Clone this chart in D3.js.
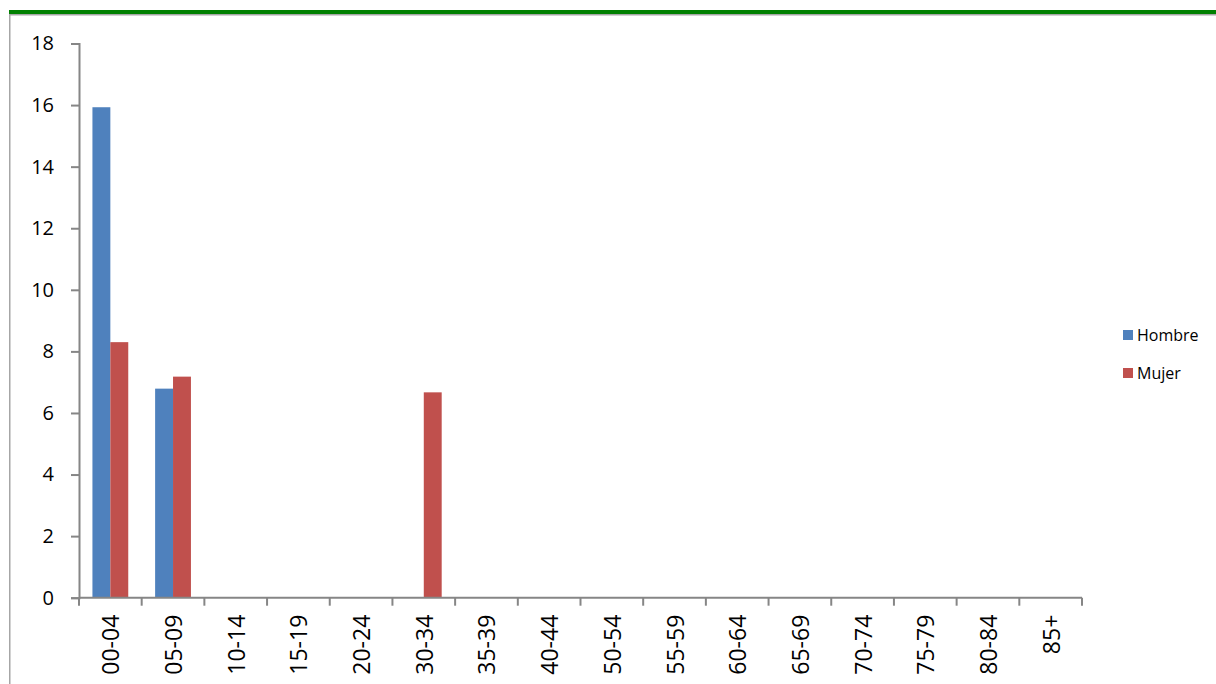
<!DOCTYPE html>
<html>
<head>
<meta charset="utf-8">
<script src="https://cdn.jsdelivr.net/npm/d3@7"></script>
<style>
  html, body { margin: 0; padding: 0; background: #fff; }
  svg { display: block; }
  text { font-family: "Open Sans", "Liberation Sans", sans-serif; fill: #000; }
</style>
</head>
<body>
<svg id="chart" width="1216" height="684"></svg>
<script>
// Age groups and rates by sex
const categories = ["00-04", "05-09", "10-14", "15-19", "20-24", "30-34", "35-39", "40-44",
                    "50-54", "55-59", "60-64", "65-69", "70-74", "75-79", "80-84", "85+"];
const hombre = [15.93, 6.79, 0, 0, 0, 0, 0, 0, 0, 0, 0, 0, 0, 0, 0, 0];
const mujer  = [8.30, 7.18, 0, 0, 0, 6.67, 0, 0, 0, 0, 0, 0, 0, 0, 0, 0];
const seriesNames = ["Hombre", "Mujer"];
const seriesColors = ["#4F81BD", "#C0504D"];
const yTicks = [0, 2, 4, 6, 8, 10, 12, 14, 16, 18];

const svg = d3.select("#chart");

// Frame: green top rule with a grey shadow, grey left edge
svg.append("rect").attr("x", 9).attr("y", 10).attr("width", 1207).attr("height", 4).attr("fill", "#008000");
svg.append("rect").attr("x", 9).attr("y", 14).attr("width", 1207).attr("height", 1.5).attr("fill", "#a6a6a6");
svg.append("rect").attr("x", 9).attr("y", 14).attr("width", 1.5).attr("height", 670).attr("fill", "#a6a6a6");

const plot = { left: 79, right: 1082, top: 43.5, bottom: 597.7 };

const x = d3.scaleBand().domain(categories).range([plot.left, plot.right]).paddingInner(0).paddingOuter(0);
const inner = d3.scaleBand().domain(seriesNames).range([0, x.bandwidth()]).paddingInner(0).paddingOuter(0.75);
const y = d3.scaleLinear().domain([0, 18]).range([plot.bottom, plot.top]);

const rows = categories.map((c, i) => ({ cat: c, values: [hombre[i], mujer[i]] }));

// Bars
const groups = svg.append("g").selectAll("g").data(rows).join("g")
  .attr("transform", d => `translate(${x(d.cat)},0)`);
groups.selectAll("rect")
  .data(d => d.values.map((v, k) => ({ name: seriesNames[k], v, k })))
  .join("rect")
  .attr("x", d => inner(d.name))
  .attr("width", inner.bandwidth())
  .attr("y", d => y(d.v))
  .attr("height", d => plot.bottom - y(d.v))
  .attr("fill", d => seriesColors[d.k]);

// Y axis
const yAxis = svg.append("g").attr("transform", `translate(${plot.left},0)`)
  .call(d3.axisLeft(y).tickValues(yTicks).tickSize(8).tickPadding(17).tickFormat(d3.format("d")));
yAxis.select(".domain").attr("stroke", "#868686").attr("stroke-width", 2);
yAxis.selectAll(".tick line").attr("stroke", "#868686").attr("stroke-width", 2);
yAxis.selectAll(".tick text").attr("font-size", 20).attr("font-family", "Open Sans, sans-serif").attr("fill", "#000");

// X axis with ticks on category boundaries
const xAxisG = svg.append("g");
xAxisG.append("line")
  .attr("x1", plot.left).attr("x2", plot.right)
  .attr("y1", plot.bottom).attr("y2", plot.bottom)
  .attr("stroke", "#868686").attr("stroke-width", 2);
const boundaries = categories.map(c => x(c)).concat([plot.right]);
xAxisG.selectAll("line.tick").data(boundaries).join("line")
  .attr("class", "tick")
  .attr("x1", d => d).attr("x2", d => d)
  .attr("y1", plot.bottom).attr("y2", plot.bottom + 8)
  .attr("stroke", "#868686").attr("stroke-width", 2);
xAxisG.selectAll("text").data(categories).join("text")
  .attr("transform", d => `translate(${x(d) + x.bandwidth() / 2},${plot.bottom + 17}) rotate(-90)`)
  .attr("text-anchor", "end")
  .attr("dominant-baseline", "central")
  .attr("font-size", 23)
  .text(d => d);

// Legend
const legend = svg.append("g").selectAll("g").data(seriesNames).join("g")
  .attr("transform", (d, i) => `translate(1123,${335 + i * 38})`);
legend.append("rect").attr("x", 0).attr("y", -5).attr("width", 10).attr("height", 10)
  .attr("fill", (d, i) => seriesColors[i]);
legend.append("text").attr("x", 14).attr("y", 0).attr("dominant-baseline", "central")
  .attr("font-size", 16).text(d => d);
</script>
</body>
</html>
